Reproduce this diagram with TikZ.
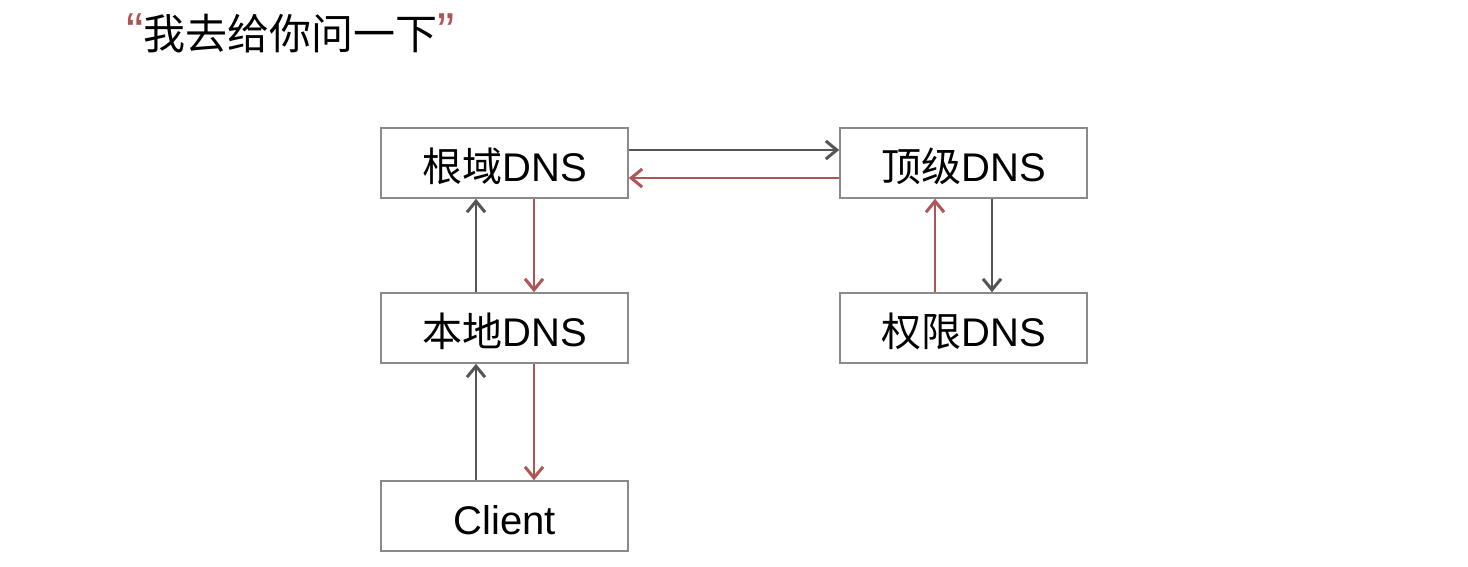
\documentclass[tikz,border=0pt]{standalone}
\usepackage{fontspec}
\setmainfont{Liberation Sans}
\newfontfamily\cjk{Noto Sans CJK SC}
\usetikzlibrary{arrows.meta}
\definecolor{boxgray}{HTML}{8A8A8A}
\definecolor{arrgray}{HTML}{555555}
\definecolor{arrred}{HTML}{B05555}
\tikzset{
  dnsbox/.style={draw=boxgray, line width=1.6pt, minimum width=247pt, minimum height=70pt,
    inner sep=0pt, text height=36pt, text depth=0pt, font=\fontsize{40}{48}\selectfont},
  ask/.style={draw=arrgray, line width=1.6pt, -{Straight Barb[length=11pt,width=18pt,line width=3pt]}},
  reply/.style={draw=arrred, line width=1.3pt, -{Straight Barb[length=11pt,width=18pt,line width=3pt]}}
}
\begin{document}
\begin{tikzpicture}[x=1pt,y=-1pt]
        \useasboundingbox (0,0) rectangle (1468,566);
        \node[anchor=base west, inner sep=0pt, font=\fontsize{42}{50}\selectfont] (title) at (126,49)
          {\textcolor{arrred}{\fontsize{52}{50}\selectfont“}{\cjk 我去给你问一下}\textcolor{arrred}{\fontsize{52}{50}\selectfont”}};
        \node[dnsbox] (root) at (504.5,163) {{\cjk 根域}DNS};
        \node[dnsbox] (top) at (963.5,163) {{\cjk 顶级}DNS};
        \node[dnsbox] (local) at (504.5,328) {{\cjk 本地}DNS};
        \node[dnsbox] (auth) at (963.5,328) {{\cjk 权限}DNS};
        \node[dnsbox] (client) at (504.5,516) {Client};
        \draw[ask] ([xshift=-28.5pt]client.north) -- ([xshift=-28.5pt]local.south);
        \draw[ask] ([xshift=-28.5pt]local.north) -- ([xshift=-28.5pt]root.south);
        \draw[ask] ([yshift=13pt]root.east) -- ([yshift=13pt]top.west);
        \draw[ask] ([xshift=28.5pt]top.south) -- ([xshift=28.5pt]auth.north);
        \draw[reply] ([xshift=-28.5pt]auth.north) -- ([xshift=-28.5pt]top.south);
        \draw[reply] ([yshift=-15pt]top.west) -- ([yshift=-15pt]root.east);
        \draw[reply] ([xshift=29.5pt]root.south) -- ([xshift=29.5pt]local.north);
        \draw[reply] ([xshift=29.5pt]local.south) -- ([xshift=29.5pt]client.north);
      \end{tikzpicture}
\end{document}
